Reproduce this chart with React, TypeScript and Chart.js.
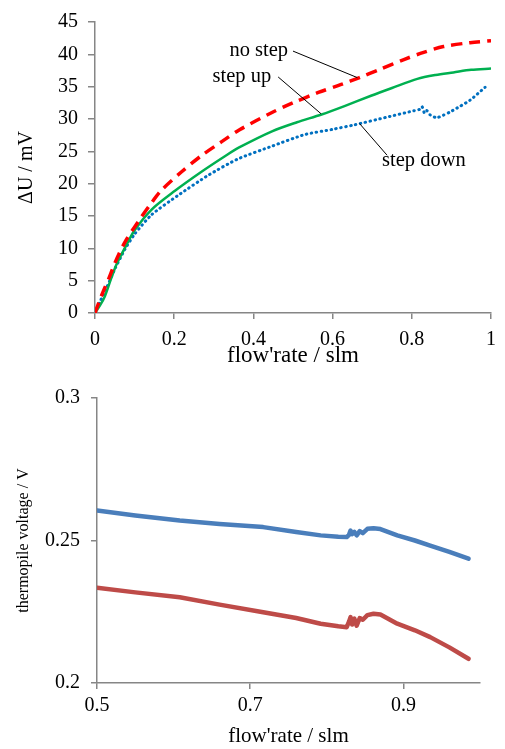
import React, { useEffect, useRef } from "react";
import { Chart, registerables } from "chart.js";

Chart.register(...registerables);

// ---------- Top chart data ----------
const topXTicks = [0, 0.2, 0.4, 0.6, 0.8, 1];
const topXTickLabels = ["0", "0.2", "0.4", "0.6", "0.8", "1"];
const topYTicks = [0, 5, 10, 15, 20, 25, 30, 35, 40, 45];

const noStepX = [0, 0.012, 0.024, 0.036, 0.05, 0.076, 0.11, 0.14, 0.168, 0.218, 0.268, 0.32, 0.364, 0.447, 0.5, 0.564, 0.62, 0.668, 0.72, 0.78, 0.83, 0.88, 0.947, 1.0];
const noStepY = [0, 2.0, 3.8, 5.5, 7.7, 11.0, 14.2, 16.8, 19.0, 21.8, 24.3, 26.5, 28.3, 31.0, 32.5, 34.1, 35.3, 36.4, 37.7, 39.2, 40.3, 41.2, 41.8, 42.1];

const stepUpX = [0, 0.013, 0.025, 0.04, 0.055, 0.08, 0.1, 0.143, 0.202, 0.268, 0.327, 0.364, 0.447, 0.51, 0.572, 0.63, 0.697, 0.75, 0.814, 0.86, 0.905, 0.95, 1.0];
const stepUpY = [0, 1.2, 2.6, 5.2, 7.6, 10.6, 12.8, 16.0, 18.9, 21.8, 24.2, 25.6, 28.1, 29.5, 30.7, 32.0, 33.6, 34.8, 36.2, 36.8, 37.2, 37.6, 37.8];

const stepDownX = [0, 0.013, 0.03, 0.05, 0.075, 0.1, 0.143, 0.21, 0.286, 0.36, 0.447, 0.53, 0.6, 0.655, 0.738, 0.8, 0.82, 0.826, 0.832, 0.838, 0.847, 0.863, 0.88, 0.897, 0.92, 0.947, 0.985];
const stepDownY = [0, 1.8, 4.0, 6.8, 9.8, 12.2, 15.2, 18.2, 21.3, 23.8, 25.8, 27.6, 28.4, 29.1, 30.3, 31.2, 31.5, 31.9, 30.9, 31.3, 30.6, 30.2, 30.6, 31.1, 31.9, 32.9, 34.9];

// annotations: label text, text anchor (x, y), leader line from (x1,y1) to (x2,y2), align
const annoText = ["no step", "step up", "step down"];
const annoTextX = [0.4875, 0.445, 0.725];
const annoTextY = [40.5, 36.5, 23.6];
const annoAlign = ["right", "right", "left"];
const annoLineX1 = [0.5, 0.4625, 0.668];
const annoLineY1 = [40.5, 36.5, 29.3];
const annoLineX2 = [0.6625, 0.571, 0.7375];
const annoLineY2 = [36.4, 30.8, 24.4];

// ---------- Bottom chart data ----------
const botXTicks = [0.5, 0.7, 0.9];
const botXTickLabels = ["0.5", "0.7", "0.9"];
const botYTicks = [0.2, 0.25, 0.3];
const botYTickLabels = ["0.2", "0.25", "0.3"];

const flowX = [0.5, 0.55, 0.608, 0.66, 0.717, 0.76, 0.792, 0.815, 0.826, 0.829, 0.831, 0.833, 0.836, 0.839, 0.843, 0.847, 0.853, 0.861, 0.87, 0.892, 0.915, 0.935, 0.96, 0.985];
const blueV = [0.2605, 0.2588, 0.2570, 0.2558, 0.2547, 0.2530, 0.2518, 0.2513, 0.2512, 0.2520, 0.2535, 0.2522, 0.2530, 0.2518, 0.2533, 0.2526, 0.2541, 0.2543, 0.2540, 0.2518, 0.2500, 0.2482, 0.2460, 0.2436];
const redV = [0.2334, 0.2318, 0.2301, 0.2275, 0.2248, 0.2228, 0.2208, 0.2199, 0.2196, 0.2215, 0.2231, 0.2205, 0.2226, 0.2201, 0.2228, 0.2222, 0.2238, 0.2243, 0.2240, 0.2208, 0.2185, 0.2161, 0.2125, 0.2085];

const FONT = "'Liberation Serif', 'Times New Roman', serif";
const AXIS = "#868686";

const zip = (xs: number[], ys: number[]) => xs.map((x, i) => ({ x, y: ys[i] }));

const annoPlugin = {
  id: "anno",
  afterDatasetsDraw(chart: any) {
    const { ctx, scales } = chart;
    const sx = scales.x, sy = scales.y;
    ctx.save();
    ctx.strokeStyle = "#000";
    ctx.lineWidth = 1;
    for (let i = 0; i < annoText.length; i++) {
      ctx.beginPath();
      ctx.moveTo(sx.getPixelForValue(annoLineX1[i]), sy.getPixelForValue(annoLineY1[i]));
      ctx.lineTo(sx.getPixelForValue(annoLineX2[i]), sy.getPixelForValue(annoLineY2[i]));
      ctx.stroke();
    }
    ctx.fillStyle = "#000";
    ctx.font = `20.5px ${FONT}`;
    ctx.textBaseline = "middle";
    for (let i = 0; i < annoText.length; i++) {
      ctx.textAlign = annoAlign[i] as CanvasTextAlign;
      ctx.fillText(annoText[i], sx.getPixelForValue(annoTextX[i]), sy.getPixelForValue(annoTextY[i]));
    }
    ctx.restore();
  },
};

function axisCommon(tickLen: number, pad: number) {
  return {
    grid: { display: true, drawOnChartArea: false, drawTicks: true, tickLength: tickLen, color: AXIS, lineWidth: 1.5 },
    border: { display: true, color: AXIS, width: 1.5 },
    ticks: { color: "#000", font: { family: FONT, size: 20 }, padding: pad, maxRotation: 0, autoSkip: false },
  };
}

function TopChart() {
  const ref = useRef<HTMLCanvasElement>(null);
  useEffect(() => {
    const c = new Chart(ref.current!, {
      type: "line",
      data: {
        datasets: [
          { data: zip(noStepX, noStepY), borderColor: "#ff0000", borderWidth: 3.5, borderDash: [11, 7], pointRadius: 0, tension: 0.3, fill: false },
          { data: zip(stepUpX, stepUpY), borderColor: "#00b050", borderWidth: 2.5, pointRadius: 0, tension: 0.3, fill: false },
          { data: zip(stepDownX, stepDownY), borderColor: "#0070c0", borderWidth: 3, borderDash: [0.5, 4.5], borderCapStyle: "round", pointRadius: 0, tension: 0.2, fill: false },
        ],
      },
      options: {
        animation: false,
        responsive: false,
        devicePixelRatio: 1,
        layout: { padding: { top: 15, right: 10, left: 0, bottom: 0 } },
        plugins: { legend: { display: false }, tooltip: { enabled: false } },
        scales: {
          x: {
            type: "linear",
            min: 0,
            max: 1,
            ...axisCommon(6, 9),
            ticks: { ...axisCommon(6, 9).ticks, callback: (v: any) => { const i = topXTicks.findIndex((t) => Math.abs(t - v) < 1e-9); return i >= 0 ? topXTickLabels[i] : ""; } },
            afterBuildTicks: (s: any) => { s.ticks = topXTicks.map((value) => ({ value })); },
            afterFit: (s: any) => { s.height = 57; },
            title: { display: true, text: "flow'rate / slm", color: "#000", font: { family: FONT, size: 23 }, padding: { top: 0, bottom: 0 } },
          },
          y: {
            type: "linear",
            min: 0,
            max: 45,
            ...axisCommon(7, 10),
            afterBuildTicks: (s: any) => { s.ticks = topYTicks.map((value) => ({ value })); },
            afterFit: (s: any) => { s.width = 95; },
            title: { display: true, text: "ΔU / mV", color: "#000", font: { family: FONT, size: 20 }, padding: { top: 15, bottom: 0 } },
          },
        },
      } as any,
      plugins: [annoPlugin],
    });
    return () => c.destroy();
  }, []);
  return <canvas ref={ref} width={505} height={370} style={{ position: "absolute", left: 0, top: 0, width: 505, height: 370 }} />;
}

function BottomChart() {
  const ref = useRef<HTMLCanvasElement>(null);
  useEffect(() => {
    const c = new Chart(ref.current!, {
      type: "line",
      data: {
        datasets: [
          { data: zip(flowX, blueV), borderColor: "#4a7ebb", borderWidth: 4.5, pointRadius: 0, tension: 0, borderCapStyle: "round", borderJoinStyle: "round", fill: false },
          { data: zip(flowX, redV), borderColor: "#be4b48", borderWidth: 4.5, pointRadius: 0, tension: 0, borderCapStyle: "round", borderJoinStyle: "round", fill: false },
        ],
      },
      options: {
        animation: false,
        responsive: false,
        devicePixelRatio: 1,
        layout: { padding: { top: 28, right: 25, left: 0, bottom: 0 } },
        plugins: { legend: { display: false }, tooltip: { enabled: false } },
        scales: {
          x: {
            type: "linear",
            min: 0.5,
            max: 1.0,
            ...axisCommon(6, 5),
            ticks: { ...axisCommon(6, 5).ticks, callback: (v: any) => { const i = botXTicks.findIndex((t) => Math.abs(t - v) < 1e-9); return i >= 0 ? botXTickLabels[i] : ""; } },
            afterBuildTicks: (s: any) => { s.ticks = botXTicks.map((value) => ({ value })); },
            afterFit: (s: any) => { s.height = 66; },
            title: { display: true, text: "flow'rate / slm", color: "#000", font: { family: FONT, size: 21 }, padding: { top: 0, bottom: 0 } },
          },
          y: {
            type: "linear",
            min: 0.2,
            max: 0.3,
            ...axisCommon(6, 11),
            ticks: { ...axisCommon(6, 11).ticks, callback: (v: any) => { const i = botYTicks.findIndex((t) => Math.abs(t - v) < 1e-9); return i >= 0 ? botYTickLabels[i] : ""; } },
            afterBuildTicks: (s: any) => { s.ticks = botYTicks.map((value) => ({ value })); },
            afterFit: (s: any) => { s.width = 97; },
            title: { display: true, text: "thermopile voltage / V", color: "#000", font: { family: FONT, size: 16 }, padding: { top: 14, bottom: 0 } },
          },
        },
      } as any,
    });
    return () => c.destroy();
  }, []);
  return <canvas ref={ref} width={505} height={379} style={{ position: "absolute", left: 0, top: 370, width: 505, height: 379 }} />;
}

export default function App() {
  return (
    <div style={{ position: "absolute", left: 0, top: 0, width: 505, height: 749, background: "#fff" }}>
      <TopChart />
      <BottomChart />
    </div>
  );
}
